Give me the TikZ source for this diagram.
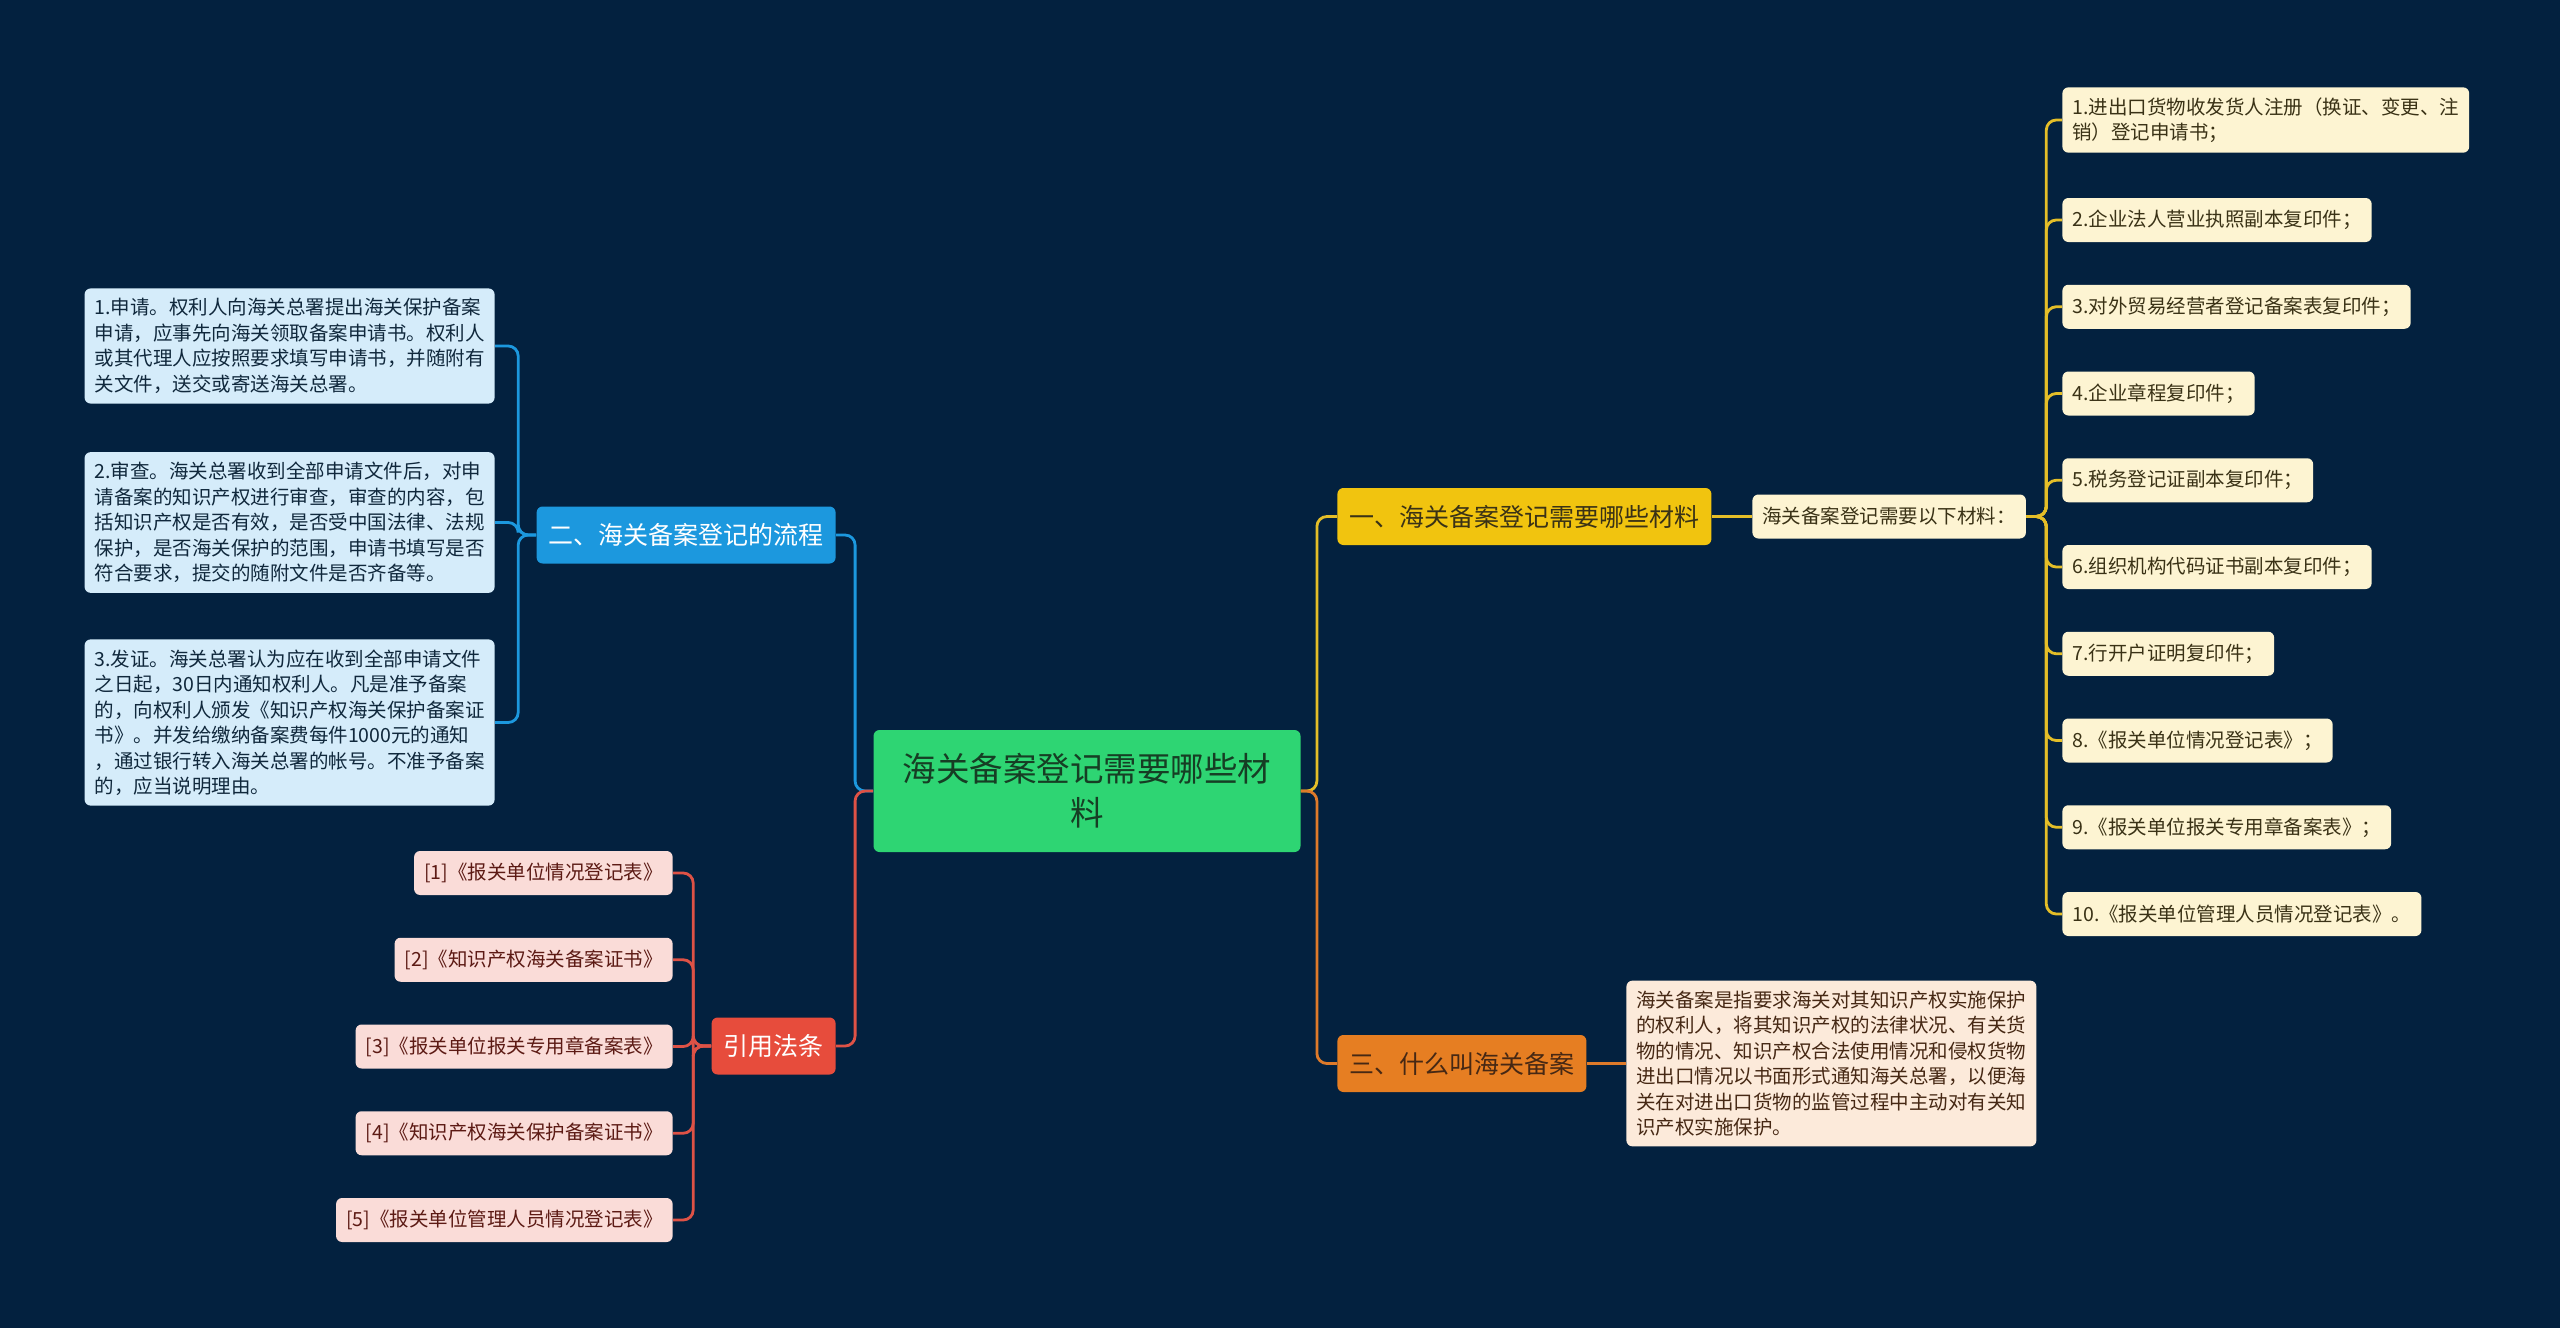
\documentclass[tikz,border=0pt]{standalone}
\usepackage{fontspec}
\setmainfont{Noto Sans CJK SC}
\usepackage{tikz}
\definecolor{bgnavy}{RGB}{3,33,63}
\definecolor{rootgreen}{RGB}{46,213,115}
\definecolor{roottext}{RGB}{22,62,36}
\definecolor{needyel}{RGB}{241,196,15}
\definecolor{needline}{RGB}{228,190,40}
\definecolor{needleaf}{RGB}{253,244,210}
\definecolor{needtext}{RGB}{58,50,22}
\definecolor{flowblue}{RGB}{28,152,222}
\definecolor{flowleaf}{RGB}{213,236,250}
\definecolor{flowtext}{RGB}{16,40,60}
\definecolor{lawred}{RGB}{231,76,60}
\definecolor{lawline}{RGB}{222,82,70}
\definecolor{lawleaf}{RGB}{250,220,216}
\definecolor{lawtext}{RGB}{92,26,20}
\definecolor{deforange}{RGB}{230,126,34}
\definecolor{defline}{RGB}{222,122,42}
\definecolor{defleaf}{RGB}{252,234,218}
\definecolor{deftext}{RGB}{70,40,20}
\newcommand{\rootfont}{\fontsize{16.75pt}{22pt}\selectfont}
\newcommand{\branchfont}{\fontsize{12.5pt}{15pt}\selectfont}
\newcommand{\leaffont}{\fontsize{9.75pt}{12.75pt}\selectfont}
\tikzset{
  rootbox/.style   = {rounded corners=3pt, fill=rootgreen, text=roottext, font=\rootfont,
                      align=center, minimum width=213.5pt, minimum height=61pt, inner sep=0pt},
  branchbox/.style = {rounded corners=3pt, inner xsep=6pt, inner ysep=0pt,
                      minimum height=28.5pt, font=\branchfont},
  leafbox/.style   = {rounded corners=3pt, inner xsep=5pt, inner ysep=5pt,
                      minimum height=22pt, font=\leaffont, align=left},
  link/.style      = {line width=1.4pt, rounded corners=5pt}
}

\begin{document}
\begin{tikzpicture}[x=0.5pt,y=-0.5pt]
  \fill[bgnavy] (0,0) rectangle (2560,1328);

  \node[rootbox] (root) at (1087,791) {海关备案登记需要哪些材\\料};

  \node[branchbox, fill=needyel, text=needtext, anchor=west] (need) at (1337,516.5) {一、海关备案登记需要哪些材料};
  \node[branchbox, fill=deforange, text=deftext, anchor=west] (define) at (1337,1063.5) {三、什么叫海关备案};
  \node[branchbox, fill=flowblue, text=white, anchor=east] (flow) at (836,535) {二、海关备案登记的流程};
  \node[branchbox, fill=lawred, text=white, anchor=east] (law) at (836,1046) {引用法条};

  \node[leafbox, fill=needleaf, text=needtext, anchor=west] (need0) at (1752,516.5) {海关备案登记需要以下材料：};
  \node[leafbox, fill=needleaf, text=needtext, anchor=west] (n1) at (2062,120) {1.进出口货物收发货人注册（换证、变更、注\\销）登记申请书；};
  \node[leafbox, fill=needleaf, text=needtext, anchor=west] (n2) at (2062,220) {2.企业法人营业执照副本复印件；};
  \node[leafbox, fill=needleaf, text=needtext, anchor=west] (n3) at (2062,306.75) {3.对外贸易经营者登记备案表复印件；};
  \node[leafbox, fill=needleaf, text=needtext, anchor=west] (n4) at (2062,393.5) {4.企业章程复印件；};
  \node[leafbox, fill=needleaf, text=needtext, anchor=west] (n5) at (2062,480.25) {5.税务登记证副本复印件；};
  \node[leafbox, fill=needleaf, text=needtext, anchor=west] (n6) at (2062,567) {6.组织机构代码证书副本复印件；};
  \node[leafbox, fill=needleaf, text=needtext, anchor=west] (n7) at (2062,653.75) {7.行开户证明复印件；};
  \node[leafbox, fill=needleaf, text=needtext, anchor=west] (n8) at (2062,740.5) {8.《报关单位情况登记表》；};
  \node[leafbox, fill=needleaf, text=needtext, anchor=west] (n9) at (2062,827.25) {9.《报关单位报关专用章备案表》；};
  \node[leafbox, fill=needleaf, text=needtext, anchor=west] (n10) at (2062,914) {10.《报关单位管理人员情况登记表》。};

  \node[leafbox, fill=defleaf, text=deftext, anchor=west] (d1) at (1626,1063.5)
    {海关备案是指要求海关对其知识产权实施保护\\的权利人，将其知识产权的法律状况、有关货\\物的情况、知识产权合法使用情况和侵权货物\\进出口情况以书面形式通知海关总署，以便海\\关在对进出口货物的监管过程中主动对有关知\\识产权实施保护。};

  \node[leafbox, fill=flowleaf, text=flowtext, anchor=east, minimum width=205pt] (f1) at (495,346)
    {1.申请。权利人向海关总署提出海关保护备案\\申请，应事先向海关领取备案申请书。权利人\\或其代理人应按照要求填写申请书，并随附有\\关文件，送交或寄送海关总署。};
  \node[leafbox, fill=flowleaf, text=flowtext, anchor=east, minimum width=205pt] (f2) at (495,522.5)
    {2.审查。海关总署收到全部申请文件后，对申\\请备案的知识产权进行审查，审查的内容，包\\括知识产权是否有效，是否受中国法律、法规\\保护，是否海关保护的范围，申请书填写是否\\符合要求，提交的随附文件是否齐备等。};
  \node[leafbox, fill=flowleaf, text=flowtext, anchor=east, minimum width=205pt] (f3) at (495,722.5)
    {3.发证。海关总署认为应在收到全部申请文件\\之日起，30日内通知权利人。凡是准予备案\\的，向权利人颁发《知识产权海关保护备案证\\书》。并发给缴纳备案费每件1000元的通知\\，通过银行转入海关总署的帐号。不准予备案\\的，应当说明理由。};

  \node[leafbox, fill=lawleaf, text=lawtext, anchor=east] (l1) at (673,873) {[1]《报关单位情况登记表》};
  \node[leafbox, fill=lawleaf, text=lawtext, anchor=east] (l2) at (673,959.75) {[2]《知识产权海关备案证书》};
  \node[leafbox, fill=lawleaf, text=lawtext, anchor=east] (l3) at (673,1046.5) {[3]《报关单位报关专用章备案表》};
  \node[leafbox, fill=lawleaf, text=lawtext, anchor=east] (l4) at (673,1133.25) {[4]《知识产权海关保护备案证书》};
  \node[leafbox, fill=lawleaf, text=lawtext, anchor=east] (l5) at (673,1220) {[5]《报关单位管理人员情况登记表》};

  \draw[link, needline] (root.east) -- ++(16,0) |- (need.west);
  \draw[link, defline]  (root.east) -- ++(16,0) |- (define.west);
  \draw[link, flowblue] (root.west) -- ++(-18,0) |- (flow.east);
  \draw[link, lawline]  (root.west) -- ++(-18,0) |- (law.east);

  \draw[link, needline] (need.east) -- (need0.west);
  \foreach \i in {1,...,10}
    \draw[link, needline] (need0.east) -- ++(20,0) |- (n\i.west);
  \draw[link, defline] (define.east) -- (d1.west);
  \foreach \i in {1,2,3}
    \draw[link, flowblue] (flow.west) -- ++(-18,0) |- (f\i.east);
  \foreach \i in {1,...,5}
    \draw[link, lawline] (law.west) -- ++(-18,0) |- (l\i.east);
\end{tikzpicture}
\end{document}
